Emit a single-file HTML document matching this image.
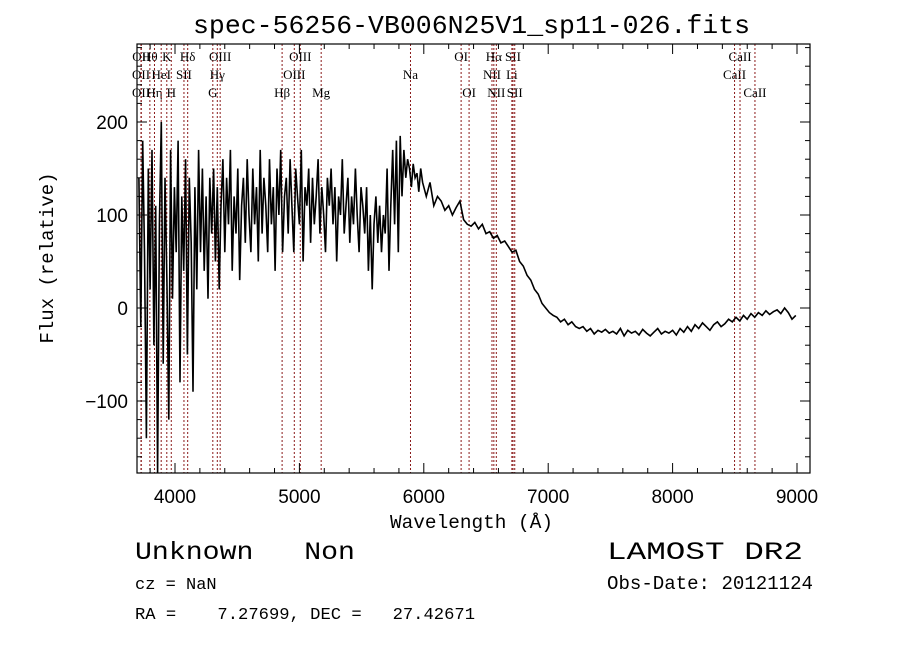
<!DOCTYPE html>
<html><head><meta charset="utf-8"><style>
html,body{margin:0;padding:0;background:#fff;}
svg{display:block;}
.mono{font-family:"Liberation Mono",monospace;}
.sans{font-family:"Liberation Sans",sans-serif;}
.serif{font-family:"Liberation Serif",serif;}
</style></head><body>
<svg id="chart" width="900" height="649" viewBox="0 0 900 649">
<rect x="0" y="0" width="900" height="649" fill="#fff"/>
<text x="193" y="33" textLength="557" lengthAdjust="spacingAndGlyphs" class="mono" font-size="26">spec-56256-VB006N25V1_sp11-026.fits</text>
<g id="lines"></g>
<g id="spec"></g>
<g id="axes"></g>
<text x="390" y="528" textLength="163" lengthAdjust="spacingAndGlyphs" class="mono" font-size="19">Wavelength (Å)</text>
<text transform="translate(53,258) rotate(-90)" text-anchor="middle" class="mono" font-size="19">Flux (relative)</text>
<text x="135" y="559" textLength="220" lengthAdjust="spacingAndGlyphs" class="mono" font-size="25" xml:space="preserve">Unknown   Non</text>
<text x="135" y="589" class="mono" font-size="17">cz = NaN</text>
<text x="135" y="619" textLength="340" lengthAdjust="spacingAndGlyphs" class="mono" font-size="17" xml:space="preserve">RA =    7.27699, DEC =   27.42671</text>
<text x="607" y="559" textLength="196" lengthAdjust="spacingAndGlyphs" class="mono" font-size="25">LAMOST DR2</text>
<text x="607" y="589" textLength="206" lengthAdjust="spacingAndGlyphs" class="mono" font-size="19">Obs-Date: 20121124</text>
</svg>
<script>
const blueStart = 3710, blueStep = 15;
const fluxBlue = [140,-20,180,60,-140,150,20,170,-40,110,-180,90,200,-60,140,30,-120,170,10,130,
60,180,-80,120,40,160,-50,140,70,-90,130,20,170,60,150,40,120,10,140,80,
150,50,130,20,110,160,60,140,90,170,40,120,80,150,30,110,140,70,160,100,
60,150,90,130,50,170,80,140,110,60,160,90,130,40,150,100,170,60,120,140,
80,160,110,60,150,120,90,170,50,130,110,150,70,140,90,120,160,80,130,100,
60,140,110,150,90,130,50,120,100,160,80,110,140,70,120,90,150,100,60,130,
110,80,130,40,100,20,90,120,70,110,60,100,80,150,40,110,170,90,180,60,
185,120,170,140,160,150,130,155,140,145,125,150,135];
const redStart = 6020, redStep = 30;
const fluxRed = [120,135,110,120,115,105,110,100,108,115,
95,90,88,92,85,90,80,82,75,78,70,72,66,
60,62,50,45,35,30,20,15,5,0,-5,-8,-10,-15,
-12,-18,-15,-20,-22,-20,-25,-22,-28,-24,-26,-23,-27,
-25,-28,-22,-30,-24,-27,-25,-29,-23,-27,-30,-26,-22,-28,-25,-27,
-24,-29,-22,-26,-20,-25,-18,-22,-16,-20,-24,-18,-15,-20,-17,-12,
-15,-10,-14,-8,-12,-6,-10,-5,-8,-3,-7,-4,-2,-6,0,-5,-12,-8];
const lineWl = [3727,3729,3727,3798,3835,3889,3934,3970,4072,4102,4304,4340,4363,4861,4959,5007,5175,5893,6300,6364,6548,6563,6583,6708,6717,6731,8498,8542,8662];
const lineLabel = ["OII","OII","OII","Hθ","Hη","HeI","K","H","SII","Hδ","G","Hγ","OIII","Hβ","OIII","OIII","Mg","Na","OI","OI","NII","Hα","NII","Li","SII","SII","CaII","CaII","CaII"];
const lineRow = [2,1,3,1,3,2,1,3,2,1,3,2,1,3,2,1,3,2,1,3,2,1,3,2,1,3,2,1,3];
const xTicks = [4000,5000,6000,7000,8000,9000];
const yTicks = [-100,0,100,200];
const yTickLabels = ["\u2212100","0","100","200"];

const L=137,R=810,T=44,B=473;
const xs = w => 175 + (w-4000)*0.1244;
const ys = v => 308 - v*0.93;
const NS="http://www.w3.org/2000/svg";
function mk(tag, attrs, parent){const e=document.createElementNS(NS,tag);for(const k in attrs)e.setAttribute(k,attrs[k]);parent.appendChild(e);return e;}

const gl=document.getElementById('lines');
const rowY=[0,61,79,97];
lineWl.forEach((w,i)=>{
  const ln=mk('line',{x1:xs(w),x2:xs(w),y1:T,y2:B,stroke:'#8b1a1a','stroke-width':1,'stroke-dasharray':'2,2'},gl);
  
  
  const t=mk('text',{x:xs(w),y:rowY[lineRow[i]],'text-anchor':'middle','font-size':13,'class':'serif'},gl);
  t.textContent=lineLabel[i];
  
  
});

const gs=document.getElementById('spec');
const pts=[];
fluxBlue.forEach((v,i)=>pts.push([blueStart+i*blueStep,v]));
fluxRed.forEach((v,i)=>pts.push([redStart+i*redStep,v]));
let d='';
pts.forEach((p,i)=>{let y=Math.max(T,Math.min(B,ys(p[1])));d+=(i?'L':'M')+xs(p[0]).toFixed(1)+','+y.toFixed(1);});
const p=mk('path',{d:d,fill:'none',stroke:'#000','stroke-width':1.6,'stroke-linejoin':'miter'},gs);



const ga=document.getElementById('axes');
const box=mk('rect',{x:L,y:T,width:R-L,height:B-T,fill:'none',stroke:'#000','stroke-width':1.2},ga);


for(let w=3800;w<=9100;w+=200){
  const x=xs(w);const major=(w%1000===0);const len=major?10:5;
  mk('line',{x1:x,x2:x,y1:B,y2:B-len,stroke:'#000'},ga);
  mk('line',{x1:x,x2:x,y1:T,y2:T+len,stroke:'#000'},ga);
}
xTicks.forEach(w=>{
  const t=mk('text',{x:xs(w),y:503,'text-anchor':'middle','font-size':19,'class':'sans'},ga);
  t.textContent=w;
  
  
});
for(let v=-160;v<=280;v+=20){
  const y=ys(v);const major=(v%100===0);const len=major?10:5;
  mk('line',{x1:L,x2:L+len,y1:y,y2:y,stroke:'#000'},ga);
  mk('line',{x1:R,x2:R-len,y1:y,y2:y,stroke:'#000'},ga);
}
yTicks.forEach((v,i)=>{
  const t=mk('text',{x:128,y:ys(v)+7,'text-anchor':'end','font-size':19,'class':'sans'},ga);
  t.textContent=yTickLabels[i];
  
  
});
</script>
</body></html>
